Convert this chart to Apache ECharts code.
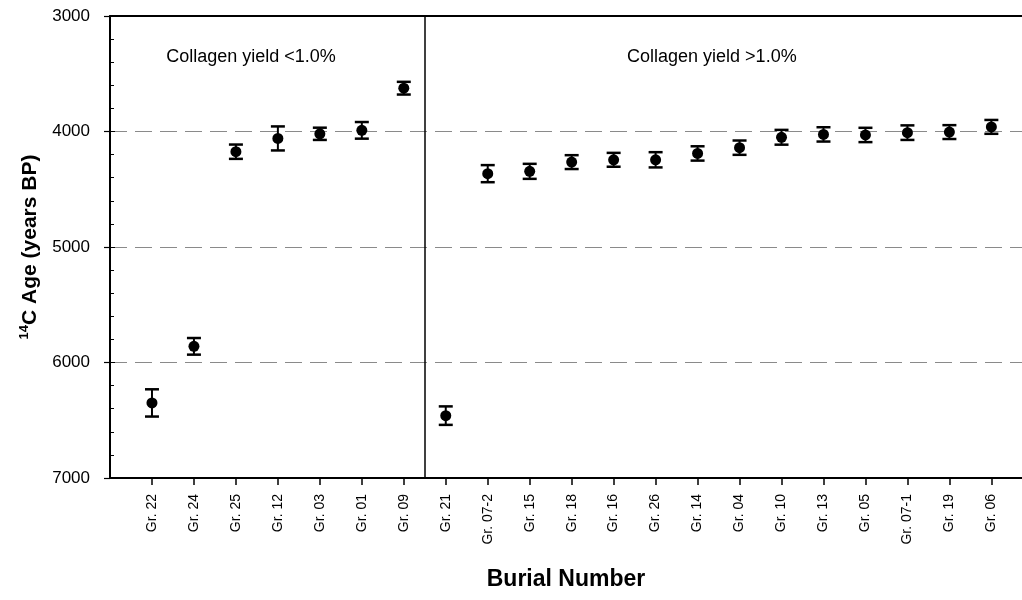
<!DOCTYPE html>
<html>
<head>
<meta charset="utf-8">
<script src="https://cdn.jsdelivr.net/npm/echarts@6/dist/echarts.min.js"></script>
<style>
html,body{margin:0;padding:0;background:#fff;}
#c{width:1022px;height:600px;}
</style>
</head>
<body>
<div id="c"></div>
<script>
var categories = ['Gr. 22','Gr. 24','Gr. 25','Gr. 12','Gr. 03','Gr. 01','Gr. 09','Gr. 21','Gr. 07-2','Gr. 15','Gr. 18','Gr. 16','Gr. 26','Gr. 14','Gr. 04','Gr. 10','Gr. 13','Gr. 05','Gr. 07-1','Gr. 19','Gr. 06'];
var ages = [6350, 5860, 4175, 4060, 4020, 3990, 3625, 6460, 4365, 4345, 4265, 4245, 4245, 4190, 4140, 4050, 4025, 4030, 4010, 4005, 3960];
var errors = [118, 72, 62, 104, 53, 72, 55, 80, 74, 65, 60, 60, 66, 62, 62, 64, 62, 62, 63, 60, 60];
var yTicks = [3000, 4000, 5000, 6000, 7000];
var groupDivider = 7.5;
var annotations = [
  {text: 'Collagen yield <1.0%', x: 3.36, y: 3355},
  {text: 'Collagen yield >1.0%', x: 14.34, y: 3355}
];

var FONT = '"Liberation Sans", Arial, sans-serif';
var positions = categories.map(function (c, i) { return i + 1; });
var pointData = categories.map(function (c, i) { return [i + 1, ages[i]]; });
var errData = categories.map(function (c, i) { return [i + 1, ages[i] - errors[i], ages[i] + errors[i]]; });

var chart = echarts.init(document.getElementById('c'));
chart.setOption({
  animation: false,
  backgroundColor: '#fff',
  grid: {left: 110, right: 0, top: 16, bottom: 122},
  xAxis: [{
    type: 'value', min: 0, max: 21.73, position: 'bottom',
    splitLine: {show: false},
    axisLine: {show: true, onZero: false, lineStyle: {color: '#000', width: 2}},
    axisTick: {show: true, length: 7, inside: false, customValues: positions, lineStyle: {color: '#000', width: 1.5}},
    axisLabel: {
      show: true, rotate: 90, margin: 16, customValues: positions,
      fontFamily: FONT, fontSize: 14, color: '#000',
      formatter: function (v) { var i = Math.round(v) - 1; return categories[i] || ''; }
    },
    name: 'Burial Number', nameLocation: 'middle', nameGap: 90,
    nameTextStyle: {fontFamily: FONT, fontSize: 23, fontWeight: 'bold', color: '#000'}
  }, {
    type: 'value', min: 0, max: 21.73, position: 'top',
    splitLine: {show: false},
    axisLine: {show: true, onZero: false, lineStyle: {color: '#000', width: 2}},
    axisTick: {show: false}, axisLabel: {show: false}
  }],
  yAxis: [{
    type: 'value', inverse: true, min: 3000, max: 7000, interval: 1000, position: 'left',
    axisLine: {show: true, lineStyle: {color: '#000', width: 2}},
    axisTick: {show: true, length: 5, inside: true, lineStyle: {color: '#000', width: 1}},
    minorTick: {show: true, splitNumber: 5, length: 4, lineStyle: {color: '#000', width: 1}},
    axisLabel: {
      fontFamily: FONT, fontSize: 17, color: '#000', margin: 20,
      customValues: yTicks,
      formatter: function (v) { return String(v); }
    },
    splitLine: {show: true, lineStyle: {color: '#8a8a8a', width: 1.2, type: [17, 8]}},
    name: '{sup|14}{main|C Age (years BP)}', nameLocation: 'middle', nameGap: 68,
    nameTextStyle: {
      fontFamily: FONT, fontSize: 21, fontWeight: 'bold', color: '#000',
      rich: {
        sup: {fontFamily: FONT, fontSize: 13, fontWeight: 'bold', color: '#000', verticalAlign: 'top', lineHeight: 24, padding: [0, 0, 8, 0]},
        main: {fontFamily: FONT, fontSize: 21, fontWeight: 'bold', color: '#000', lineHeight: 24}
      }
    }
  }, {
    type: 'value', inverse: true, min: 3000, max: 7000, interval: 1000, position: 'left',
    axisLine: {show: false},
    axisTick: {show: true, length: 6, inside: false, lineStyle: {color: '#000', width: 1.2}},
    axisLabel: {show: false},
    splitLine: {show: false}
  }],
  series: [{
    type: 'custom',
    xAxisIndex: 0, yAxisIndex: 0,
    data: errData,
    silent: true,
    z: 3,
    renderItem: function (params, api) {
      var x = api.value(0);
      var lo = api.coord([x, api.value(1)]);
      var hi = api.coord([x, api.value(2)]);
      var hw = 7;
      return {
        type: 'group',
        children: [
          {type: 'line', shape: {x1: lo[0], y1: lo[1], x2: hi[0], y2: hi[1]}, style: {stroke: '#000', lineWidth: 2}},
          {type: 'line', shape: {x1: lo[0] - hw, y1: lo[1], x2: lo[0] + hw, y2: lo[1]}, style: {stroke: '#000', lineWidth: 2.5}},
          {type: 'line', shape: {x1: hi[0] - hw, y1: hi[1], x2: hi[0] + hw, y2: hi[1]}, style: {stroke: '#000', lineWidth: 2.5}}
        ]
      };
    }
  }, {
    type: 'scatter',
    xAxisIndex: 0, yAxisIndex: 0,
    data: pointData,
    symbol: 'circle',
    symbolSize: 11,
    itemStyle: {color: '#000', opacity: 1},
    z: 4,
    markLine: {
      silent: true, symbol: 'none',
      label: {show: false},
      lineStyle: {color: '#000', width: 1.5, type: 'solid'},
      data: [{xAxis: groupDivider}]
    },
    markPoint: {
      silent: true, symbol: 'circle', symbolSize: 0,
      label: {show: true, position: 'inside', fontFamily: FONT, fontSize: 18, color: '#000', formatter: '{b}'},
      data: annotations.map(function (a) { return {name: a.text, coord: [a.x, a.y]}; })
    }
  }]
});
</script>
</body>
</html>
